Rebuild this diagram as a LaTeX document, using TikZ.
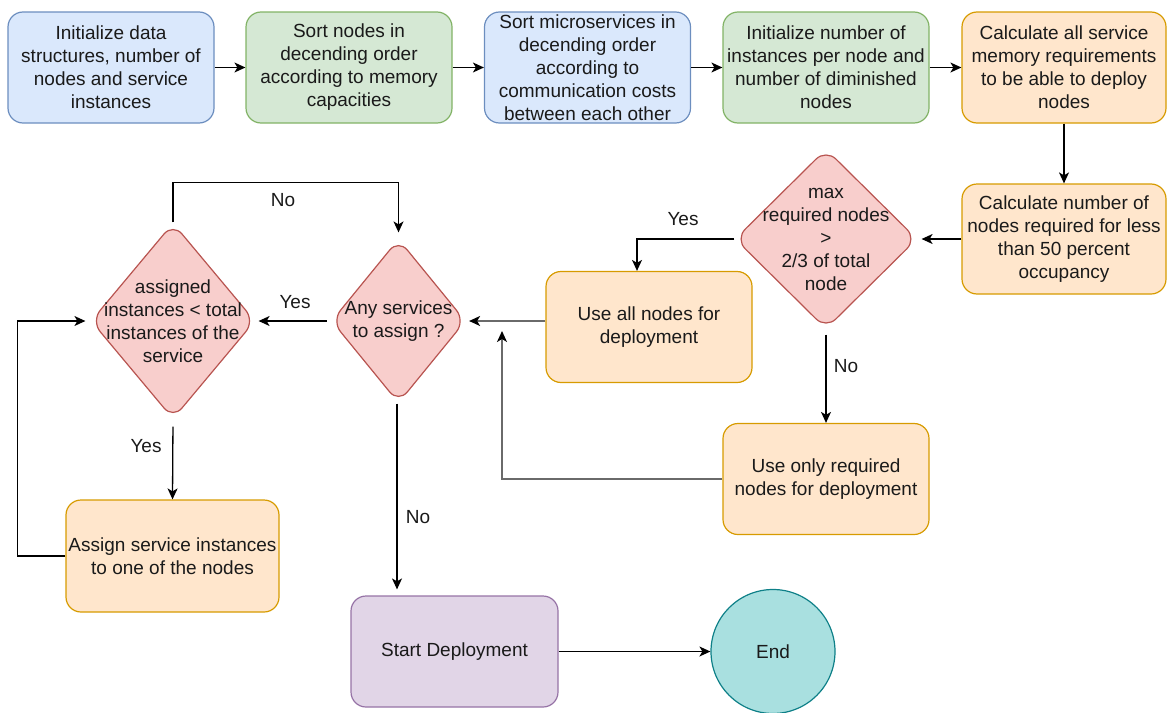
\documentclass[tikz,border=0pt]{standalone}
\usepackage{fontspec}
\setmainfont{Liberation Sans}
\usetikzlibrary{shapes.geometric,arrows.meta}
\definecolor{bluef}{HTML}{DAE8FC}\definecolor{blued}{HTML}{6C8EBF}
\definecolor{greenf}{HTML}{D5E8D4}\definecolor{greend}{HTML}{82B366}
\definecolor{orangef}{HTML}{FFE6CC}\definecolor{oranged}{HTML}{D79B00}
\definecolor{redf}{HTML}{F8CECC}\definecolor{redd}{HTML}{B85450}
\definecolor{purplef}{HTML}{E1D5E7}\definecolor{purpled}{HTML}{9673A6}
\definecolor{tealf}{HTML}{A9E0E0}\definecolor{teald}{HTML}{0E8088}
\definecolor{txt}{HTML}{1A1A1A}
\definecolor{grayline}{HTML}{6A6A6A}
\begin{document}
\begin{tikzpicture}[x=1pt,y=-1pt,
  font=\fontsize{19}{23}\selectfont,
  box/.style={rectangle, rounded corners=15pt, minimum width=206pt, minimum height=111pt,
    align=center, line width=1.2pt, inner sep=0pt, text=txt},
  bluebox/.style={box, fill=bluef, draw=blued},
  greenbox/.style={box, fill=greenf, draw=greend},
  orangebox/.style={box, fill=orangef, draw=oranged},
  purplebox/.style={box, fill=purplef, draw=purpled},
  dia/.style={diamond, rounded corners=14pt, line width=1.2pt, inner sep=0pt,
    fill=redf, draw=redd},
  dtext/.style={align=center, text=txt, inner sep=0pt},
  arr/.style={-{Stealth[length=11pt,width=10pt,inset=3pt]}, line width=1.3pt, draw=black},
  grayarr/.style={-{Stealth[length=11pt,width=10pt,inset=3pt,color=black]}, line width=1.5pt, draw=grayline},
  lbl/.style={text=txt, inner sep=0pt}]
\useasboundingbox (0,0) rectangle (1167,712);

% top row
\node[bluebox] (b1) at (111,67.5) {Initialize data\\structures, number of\\nodes and service\\instances};
\node[greenbox] (b2) at (349,67.5) {Sort nodes in\\decending order\\according to memory\\capacities};
\node[bluebox] (b3) at (587.5,67.5) {Sort microservices in\\decending order\\according to\\communication costs\\between each other};
\node[greenbox] (b4) at (826,67.5) {Initialize number of\\instances per node and\\number of diminished\\nodes};
\node[orangebox, minimum width=204pt] (b5) at (1064,67.5) {Calculate all service\\memory requirements\\to be able to deploy\\nodes};
\node[orangebox, minimum width=204pt, minimum height=110pt] (b6) at (1064,239) {Calculate number of\\nodes required for less\\than 50 percent\\occupancy};

% decision max required
\node[dia, minimum width=182pt, minimum height=180pt] (d1) at (826,239) {};
\node[dtext] (d1t) at (d1) {max\\required nodes\\>\\2/3 of total\\node};

\node[orangebox] (b8) at (649,327) {Use all nodes for\\deployment};
\node[orangebox] (b9) at (826,479) {Use only required\\nodes for deployment};

% decisions left
\node[dia, minimum width=134pt, minimum height=164pt] (d2) at (398.5,321) {};
\node[dtext] (d2t) at (d2) {Any services\\to assign ?};
\node[dia, minimum width=164pt, minimum height=196pt] (d3) at (173,321) {};
\node[dtext] (d3t) at (d3) {assigned\\instances < total\\instances of the\\service};

\node[orangebox, minimum width=213pt, minimum height=112pt] (b12) at (172.5,556) {Assign service instances\\to one of the nodes};
\node[purplebox, minimum width=207pt] (b13) at (454.5,651.5) {Start Deployment};
\node[circle, minimum size=124pt, inner sep=0pt, fill=tealf, draw=teald, line width=1.2pt, text=txt] (end) at (773,651.5) {End};

% connectors top row
\draw[arr] (b1) -- (b2);
\draw[arr] (b2) -- (b3);
\draw[arr] (b3) -- (b4);
\draw[arr] (b4) -- (b5);
\draw[arr] (b5) -- (b6);
\draw[arr, shorten >=4pt] (b6) -- (d1);

\draw[arr] (d1.west) -| ([xshift=-12pt]b8.north);
\node[lbl] (lyes1) at (683,219) {Yes};
\draw[arr, shorten <=5pt] (d1.south) -- (b9.north);
\node[lbl] (lno1) at (846,366) {No};

\draw[grayarr, shorten >=3pt] (b8.west |- d2.east) -- (d2.east);
\coordinate (m1) at (502,331);
\draw[grayarr] (b9.west) -| (m1);

\draw[arr, shorten <=4pt, shorten >=3pt] (d2.west) -- (d3.east);
\node[lbl] (lyes2) at (295,302) {Yes};

\draw[arr, shorten >=6pt] (d3.north) -- ++(0,-40) -| (d2.north);
\node[lbl] (lno2) at (283,200) {No};

\draw[arr, shorten <=7pt] (d3.south) -- (b12.north);
\node[lbl] (lyes3) at (146,446) {Yes};

\draw[arr, shorten >=5pt] (b12.west) -- ++(-48,0) |- (d3.west);

\draw[arr, shorten >=6pt] ([xshift=-1.5pt]d2.south) -- ([xshift=-1.5pt]d2.south |- b13.north);
\node[lbl] (lno3) at (418,517) {No};

\draw[arr] (b13.east) -- (end.west);
\end{tikzpicture}
\end{document}
